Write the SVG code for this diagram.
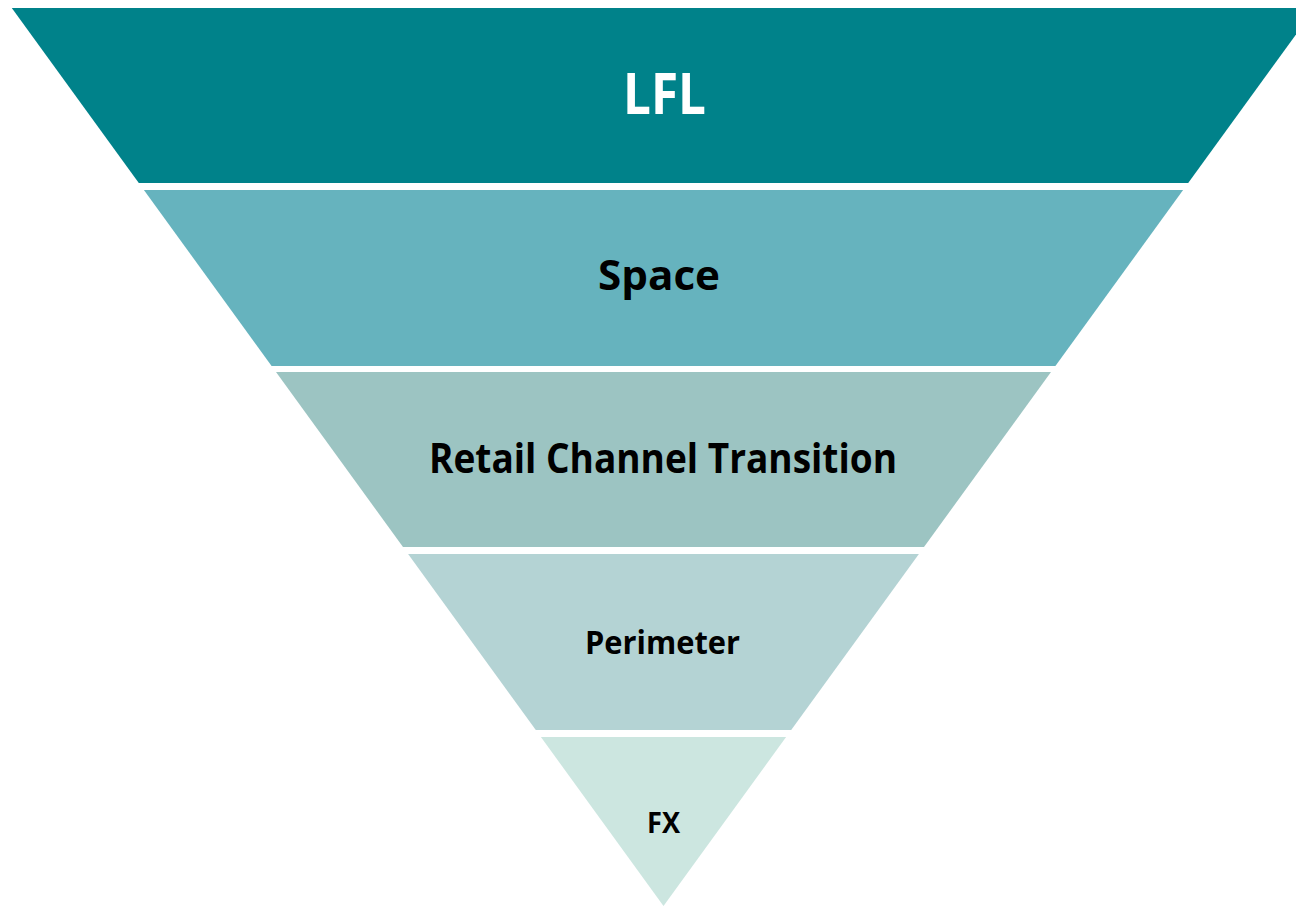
<svg xmlns="http://www.w3.org/2000/svg" width="1296" height="907" viewBox="0 0 1296 907">
  <style>
    .lbl { font-family: "Open Sans", "Liberation Sans", sans-serif; font-weight: 700; text-anchor: middle; fill: #000000; }
    .lbl-top { fill: #ffffff; }
  </style>
  <rect x="0" y="0" width="1296" height="907" fill="#ffffff"/>
  <g id="level-lfl">
    <polygon points="11.8,8 1315.2,8 1188.2,183 138.8,183" fill="#00828a"/>
    <text class="lbl lbl-top" x="664.5" y="114" font-size="57" textLength="83" lengthAdjust="spacingAndGlyphs">LFL</text>
  </g>
  <g id="level-space">
    <polygon points="143.9,190 1183.1,190 1055.4,366 271.6,366" fill="#66b3be"/>
    <text class="lbl" x="659" y="290" font-size="42" textLength="122" lengthAdjust="spacingAndGlyphs">Space</text>
  </g>
  <g id="level-retail">
    <polygon points="276,372 1051,372 924,547 403,547" fill="#9cc4c2"/>
    <text class="lbl" x="663" y="472.5" font-size="41" textLength="468" lengthAdjust="spacingAndGlyphs">Retail Channel Transition</text>
  </g>
  <g id="level-perimeter">
    <polygon points="408.1,554 918.9,554 791.2,730 535.8,730" fill="#b4d3d4"/>
    <text class="lbl" x="662.5" y="654" font-size="32" textLength="155" lengthAdjust="spacingAndGlyphs">Perimeter</text>
  </g>
  <g id="level-fx">
    <polygon points="540.9,737 786.1,737 663.5,906" fill="#cce6e0"/>
    <text class="lbl" x="663.5" y="833" font-size="28" textLength="33" lengthAdjust="spacingAndGlyphs">FX</text>
  </g>
  <g id="connectors"></g>
</svg>
